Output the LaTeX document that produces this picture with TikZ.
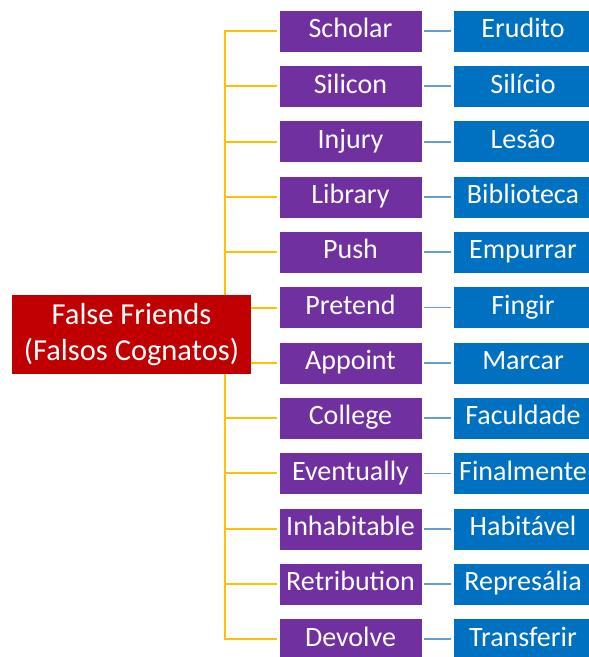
\documentclass[tikz,border=0pt]{standalone}
\usepackage{fontspec}
\setmainfont{Carlito}
\usetikzlibrary{backgrounds}
\definecolor{rootred}{RGB}{192, 0, 0}
\definecolor{wordpurple}{RGB}{112, 48, 160}
\definecolor{transblue}{RGB}{0, 112, 192}
\definecolor{branchyellow}{RGB}{255, 192, 0}
\definecolor{tieblue}{RGB}{100, 156, 214}

\begin{document}
\begin{tikzpicture}[x=1pt, y=-1pt,
        box/.style={rectangle, draw=white, line width=0.4pt, text=white, inner sep=1pt,
                    text height=20pt, text depth=6.6pt,
                    minimum height=42pt, font=\fontsize{28}{33}\selectfont},
        word/.style={box, fill=wordpurple, minimum width=143pt},
        trans/.style={box, fill=transblue, minimum width=140pt},
        branch/.style={line width=2pt, branchyellow},
        tie/.style={line width=1.8pt, tieblue, shorten <=2pt, shorten >=2pt}]
    \useasboundingbox (0,0) rectangle (589,657);
    \clip (0,0) rectangle (589,657);
    \node[rectangle, fill=rootred, text=white, minimum width=239pt, minimum height=79pt,
          align=center, inner sep=1pt, font=\fontsize{30.5}{36.5}\selectfont]
        (root) at (131.5,334.5) {False Friends\\(Falsos Cognatos)};
    \coordinate (trunk) at (225,334.5);
    \foreach \en/\pt [count=\i from 0] in {Scholar/Erudito, Silicon/Silício, Injury/Lesão,
            Library/Biblioteca, Push/Empurrar, Pretend/Fingir, Appoint/Marcar,
            College/Faculdade, Eventually/Finalmente, Inhabitable/Habitável,
            Retribution/Represália, Devolve/Transferir} {
        \node[word]  (w\i) at (350.5, {31+55.3*\i}) {\en};
        \node[trans] (t\i) at (523, {31+55.3*\i}) {\pt};
        \draw[tie] (w\i) -- (t\i);
        \begin{scope}[on background layer]
            \draw[branch] (trunk) |- ([xshift=-2pt]w\i.west);
        \end{scope}
    }
\end{tikzpicture}
\end{document}
